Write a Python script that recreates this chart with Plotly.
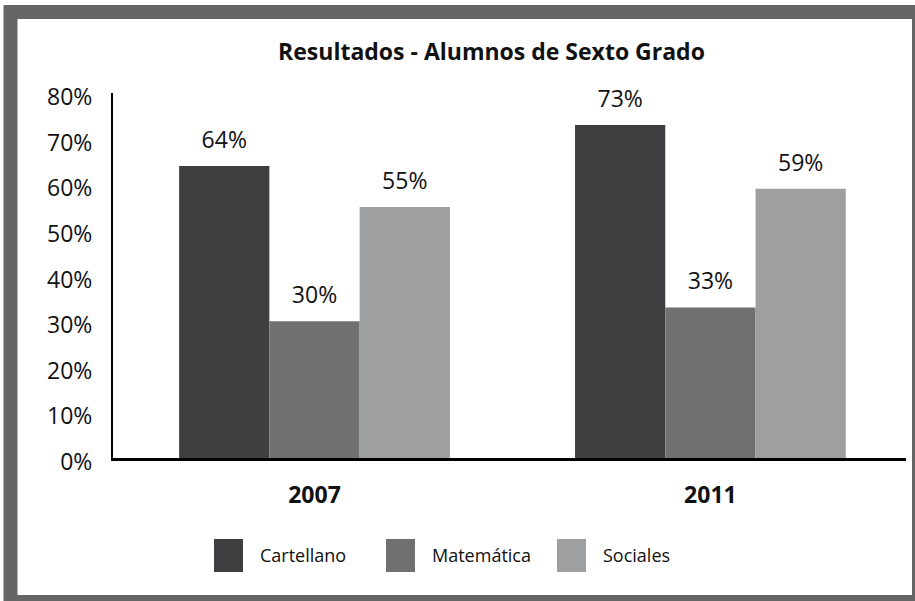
import plotly.graph_objects as go

years = ["2007", "2011"]
series_names = ["Cartellano", "Matemática", "Sociales"]
cartellano = [64, 73]
matematica = [30, 33]
sociales = [55, 59]
series_values = [cartellano, matematica, sociales]
colors = ["#3f3f41", "#707072", "#9e9fa1"]
title_text = "Resultados - Alumnos de Sexto Grado"
y_ticks = [0, 10, 20, 30, 40, 50, 60, 70, 80]
y_tick_labels = [f"{v}%" for v in y_ticks]

W, H = 915, 601
ML, MR, MT, MB = 113, 9, 93, 143
PW = W - ML - MR
PH = H - MT - MB
FONT = "Open Sans"


def px(x):
    return (x - ML) / PW


def py(y):
    return (H - MB - y) / PH


fig = go.Figure()
for name, vals, col in zip(series_names, series_values, colors):
    fig.add_trace(go.Bar(
        x=years, y=vals, name=name, marker=dict(color=col, line=dict(width=0)),
        offsetgroup=name, showlegend=False, hoverinfo="skip",
    ))
for name, vals in zip(series_names, series_values):
    fig.add_trace(go.Scatter(
        x=years, y=vals, mode="markers+text", offsetgroup=name,
        text=[f"{v}%" for v in vals], textposition="top center",
        textfont=dict(family=FONT, size=23, color="#111111"),
        marker=dict(size=18, color="rgba(0,0,0,0)"),
        showlegend=False, hoverinfo="skip", cliponaxis=False,
    ))

shapes = [dict(type="rect", xref="paper", yref="paper",
               x0=px(10.5), x1=px(919), y0=py(602), y1=py(12),
               line=dict(color="#666666", width=14), fillcolor="rgba(0,0,0,0)",
               layer="below")]
annotations = []
legend_x = [214, 386, 557]
for lx, name, col in zip(legend_x, series_names, colors):
    shapes.append(dict(type="rect", xref="paper", yref="paper",
                       x0=px(lx), x1=px(lx + 29), y0=py(572), y1=py(539),
                       fillcolor=col, line=dict(width=0)))
    annotations.append(dict(xref="paper", yref="paper", x=px(lx + 44), y=py(555),
                            text=name, showarrow=False, xanchor="left", yanchor="middle",
                            font=dict(family=FONT, size=18, color="#111111")))

fig.update_layout(
    width=W, height=H,
    margin=dict(l=ML, r=MR, t=MT, b=MB),
    paper_bgcolor="white", plot_bgcolor="white",
    barmode="group", bargap=0.316, bargroupgap=0,
    scattermode="group", scattergap=0.316,
    title=dict(text="<b>" + title_text + "</b>", x=491.5 / W, xanchor="center",
               y=1 - 52 / H, yanchor="middle", xref="container", yref="container",
               font=dict(family=FONT, size=23, color="#111111")),
    shapes=shapes, annotations=annotations,
    xaxis=dict(type="category", range=[-0.509, 1.494], showline=True,
               linecolor="#000000", linewidth=3,
               ticks="", showgrid=False, zeroline=False,
               tickfont=dict(family=FONT, size=23, color="#111111", weight="bold"),
               ticklabelstandoff=14),
    yaxis=dict(range=[0, 80], tickmode="array", tickvals=y_ticks, ticktext=y_tick_labels,
               showline=True, linecolor="#000000", linewidth=2, ticks="",
               showgrid=False, zeroline=False,
               tickfont=dict(family=FONT, size=23, color="#111111"),
               ticklabelstandoff=14, ticklabelshift=4),
    showlegend=False,
)

fig.write_html("out.html",
               config={"displayModeBar": False},
               post_script="document.body.style.margin='0';document.body.style.overflow='hidden';")
